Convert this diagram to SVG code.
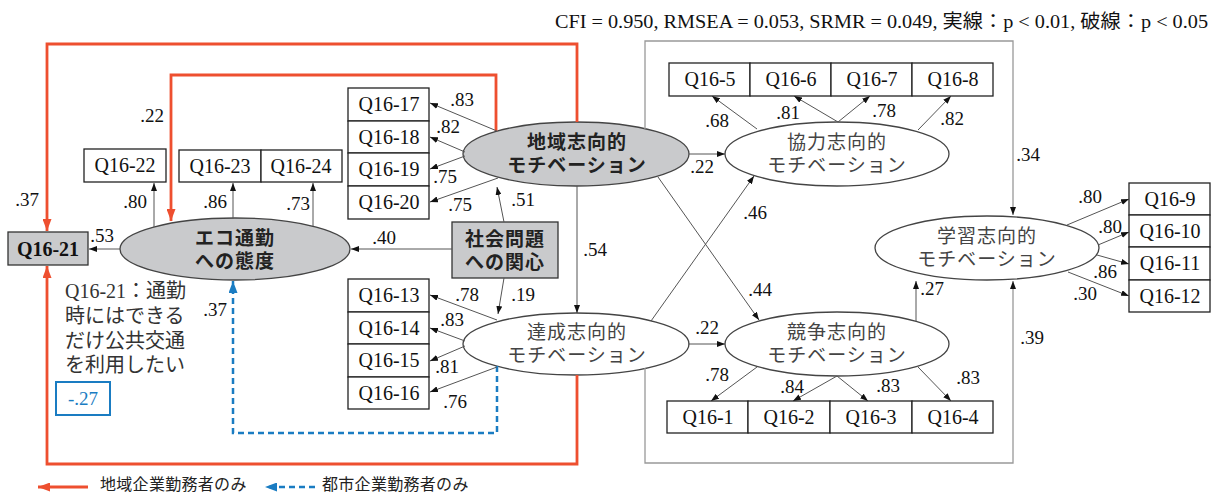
<svg xmlns="http://www.w3.org/2000/svg" width="1214" height="495" viewBox="0 0 1214 495">
<style>
.box{fill:#fff;stroke:#222;stroke-width:1.3}
.gbox{fill:#c9cacc;stroke:#333;stroke-width:1.3}
.ell{fill:#fff;stroke:#444;stroke-width:1.3}
.gell{fill:#c9cacc;stroke:#444;stroke-width:1.3}
.lbl{font-size:19px;fill:#111;text-anchor:middle}
.btx{font-size:20px;text-anchor:middle;fill:#111}
.jtx{font-size:19px;text-anchor:middle;fill:#444;letter-spacing:1px}
.jb{font-size:19px;text-anchor:middle;fill:#222;font-weight:bold;letter-spacing:1px}
.ln{stroke:#555;stroke-width:1;fill:none;marker-end:url(#a)}
.red{stroke:#ee4f2f;stroke-width:2.8;fill:none;marker-end:url(#ar)}
.blue{stroke:#1a7cc2;stroke-width:2.5;stroke-dasharray:6 4;fill:none;marker-end:url(#ab)}
.gry{stroke:#999;stroke-width:1.3;fill:none;marker-end:url(#a)}
.note{font-size:20px;fill:#333}
.leg{font-size:16px;fill:#222;letter-spacing:0.3px}
</style>
<defs>
<marker id="a" markerUnits="userSpaceOnUse" markerWidth="8" markerHeight="6" refX="8" refY="3" orient="auto"><path d="M0,0 L8,3 L0,6 z" fill="#111"/></marker>
<marker id="ar" markerUnits="userSpaceOnUse" markerWidth="12" markerHeight="9" refX="12" refY="4.5" orient="auto"><path d="M0,0 L12,4.5 L0,9 z" fill="#ee4f2f"/></marker>
<marker id="ab" markerUnits="userSpaceOnUse" markerWidth="12" markerHeight="9" refX="12" refY="4.5" orient="auto"><path d="M0,0 L12,4.5 L0,9 z" fill="#1a7cc2"/></marker>
</defs>
<rect width="1214" height="495" fill="#fff"/>
<g font-family="Liberation Serif, 'Noto Sans CJK JP', serif">
<text x="555" y="28" font-size="19" fill="#111" textLength="653" lengthAdjust="spacingAndGlyphs">CFI = 0.950, RMSEA = 0.053, SRMR = 0.049, 実線：p &lt; 0.01, 破線：p &lt; 0.05</text>

<g id="eco">
<ellipse class="gell" cx="235" cy="249" rx="115" ry="31"/>
<text class="jb" x="235" y="245"><tspan x="235" y="245">エコ通勤</tspan><tspan x="235" y="268">への態度</tspan></text>
</g>
<g id="q16-21">
<rect class="gbox" x="8" y="232" width="80" height="33"/>
<text class="btx" x="48" y="256" font-weight="bold">Q16-21</text>
</g>
<g id="q16-22"><rect class="box" x="84" y="149" width="82" height="33"/><text class="btx" x="125" y="172">Q16-22</text></g>
<g id="q16-23"><rect class="box" x="179" y="150" width="82" height="32"/><text class="btx" x="220" y="173">Q16-23</text></g>
<g id="q16-24"><rect class="box" x="261" y="150" width="81" height="32"/><text class="btx" x="301" y="173">Q16-24</text></g>

<g id="chiiki">
<ellipse class="gell" cx="576" cy="154" rx="113" ry="32"/>
<text class="jb"><tspan x="577" y="149">地域志向的</tspan><tspan x="577" y="172">モチベーション</tspan></text>
</g>
<g id="shakai">
<rect class="gbox" x="452" y="222" width="106" height="56"/>
<text class="jb"><tspan x="505" y="246">社会問題</tspan><tspan x="505" y="269">への関心</tspan></text>
</g>
<g id="q16-17"><rect class="box" x="348" y="88" width="81" height="33"/><text class="btx" x="389" y="111">Q16-17</text></g>
<g id="q16-18"><rect class="box" x="348" y="121" width="81" height="32"/><text class="btx" x="389" y="144">Q16-18</text></g>
<g id="q16-19"><rect class="box" x="348" y="153" width="81" height="33"/><text class="btx" x="389" y="176">Q16-19</text></g>
<g id="q16-20"><rect class="box" x="348" y="186" width="81" height="33"/><text class="btx" x="389" y="209">Q16-20</text></g>

<g id="tassei">
<ellipse class="ell" cx="576" cy="344" rx="113" ry="31"/>
<text class="jtx"><tspan x="577" y="339">達成志向的</tspan><tspan x="577" y="362">モチベーション</tspan></text>
</g>
<g id="q16-13"><rect class="box" x="348" y="279" width="81" height="33"/><text class="btx" x="389" y="302">Q16-13</text></g>
<g id="q16-14"><rect class="box" x="348" y="312" width="81" height="32"/><text class="btx" x="389" y="335">Q16-14</text></g>
<g id="q16-15"><rect class="box" x="348" y="344" width="81" height="33"/><text class="btx" x="389" y="367">Q16-15</text></g>
<g id="q16-16"><rect class="box" x="348" y="377" width="81" height="32"/><text class="btx" x="389" y="400">Q16-16</text></g>

<g id="kyoryoku">
<ellipse class="ell" cx="837" cy="154" rx="112" ry="32"/>
<text class="jtx"><tspan x="837" y="149">協力志向的</tspan><tspan x="837" y="172">モチベーション</tspan></text>
</g>
<g id="q16-5"><rect class="box" x="669" y="63" width="81" height="33"/><text class="btx" x="710" y="86">Q16-5</text></g>
<g id="q16-6"><rect class="box" x="750" y="63" width="81" height="33"/><text class="btx" x="791" y="86">Q16-6</text></g>
<g id="q16-7"><rect class="box" x="831" y="63" width="81" height="33"/><text class="btx" x="872" y="86">Q16-7</text></g>
<g id="q16-8"><rect class="box" x="912" y="63" width="81" height="33"/><text class="btx" x="953" y="86">Q16-8</text></g>

<g id="kyoso">
<ellipse class="ell" cx="837" cy="344" rx="112" ry="32"/>
<text class="jtx"><tspan x="837" y="339">競争志向的</tspan><tspan x="837" y="362">モチベーション</tspan></text>
</g>
<g id="q16-1"><rect class="box" x="667" y="401" width="81" height="32"/><text class="btx" x="708" y="424">Q16-1</text></g>
<g id="q16-2"><rect class="box" x="748" y="401" width="82" height="32"/><text class="btx" x="789" y="424">Q16-2</text></g>
<g id="q16-3"><rect class="box" x="830" y="401" width="82" height="32"/><text class="btx" x="871" y="424">Q16-3</text></g>
<g id="q16-4"><rect class="box" x="912" y="401" width="81" height="32"/><text class="btx" x="953" y="424">Q16-4</text></g>

<g id="gakushu">
<ellipse class="ell" cx="987" cy="248" rx="112" ry="32"/>
<text class="jtx"><tspan x="987" y="243">学習志向的</tspan><tspan x="987" y="266">モチベーション</tspan></text>
</g>
<g id="q16-9"><rect class="box" x="1129" y="183" width="81" height="32"/><text class="btx" x="1170" y="206">Q16-9</text></g>
<g id="q16-10"><rect class="box" x="1129" y="215" width="81" height="32"/><text class="btx" x="1170" y="238">Q16-10</text></g>
<g id="q16-11"><rect class="box" x="1129" y="247" width="81" height="33"/><text class="btx" x="1170" y="270">Q16-11</text></g>
<g id="q16-12"><rect class="box" x="1129" y="280" width="81" height="32"/><text class="btx" x="1170" y="303">Q16-12</text></g>

<g id="note">
<text class="note"><tspan x="65" y="298">Q16-21：通勤</tspan><tspan x="65" y="323">時にはできる</tspan><tspan x="65" y="348">だけ公共交通</tspan><tspan x="65" y="372">を利用したい</tspan></text>
</g>
<g id="blue-coef">
<rect x="56" y="382" width="54" height="33" fill="#fff" stroke="#1a7cc2" stroke-width="2"/>
<text x="83" y="405" font-size="19" fill="#1a7cc2" text-anchor="middle">-.27</text>
</g>

<g id="connectors">
<path class="red" d="M577,122 V44 H47 V231"/>
<path class="red" d="M496,131 V75 H171 V221"/>
<path class="red" d="M577,375 V464 H47 V266"/>
<path class="blue" d="M497,366 V433 H233 V281"/>
<path class="gry" d="M645,129 V41 H1013 V215"/>
<path class="gry" d="M645,368 V463 H1013 V281"/>
<path class="ln" d="M120,249 H89"/>
<path class="ln" d="M154,227 V183"/>
<path class="ln" d="M233,218 V183"/>
<path class="ln" d="M313,226 V183"/>
<path class="ln" d="M452,249 H351"/>
<path class="ln" d="M504,222 L497,187"/>
<path class="ln" d="M504,278 L498,314"/>
<path class="ln" d="M497,131 L430,103"/>
<path class="ln" d="M465,152 L430,137"/>
<path class="ln" d="M465,156 L430,169"/>
<path class="ln" d="M498,178 L430,202"/>
<path class="ln" d="M497,320 L430,295"/>
<path class="ln" d="M465,341 L430,328"/>
<path class="ln" d="M465,346 L430,361"/>
<path class="ln" d="M497,367 L430,392"/>
<path class="ln" d="M577,186 V313"/>
<path class="ln" d="M689,154 H725"/>
<path class="ln" d="M688,344 H725"/>
<path class="ln" d="M658,177 L759,320"/>
<path class="ln" d="M651,321 L754,176"/>
<path class="ln" d="M916,321 V281"/>
<path class="ln" d="M757,129 L712,96"/>
<path class="ln" d="M838,122 L794,96"/>
<path class="ln" d="M838,122 L870,96"/>
<path class="ln" d="M918,130 L951,96"/>
<path class="ln" d="M757,367 L711,401"/>
<path class="ln" d="M837,376 L793,401"/>
<path class="ln" d="M837,376 L868,401"/>
<path class="ln" d="M918,367 L951,401"/>
<path class="ln" d="M1067,225 L1129,199"/>
<path class="ln" d="M1098,245 L1129,232"/>
<path class="ln" d="M1097,255 L1129,264"/>
<path class="ln" d="M1068,272 L1129,296"/>
<g>
<text class="lbl" x="152" y="122">.22</text>
<text class="lbl" x="27" y="206">.37</text>
<text class="lbl" x="135" y="208">.80</text>
<text class="lbl" x="215" y="208">.86</text>
<text class="lbl" x="298" y="210">.73</text>
<text class="lbl" x="102" y="242">.53</text>
<text class="lbl" x="384" y="244">.40</text>
<text class="lbl" x="462" y="106">.83</text>
<text class="lbl" x="448" y="133">.82</text>
<text class="lbl" x="445" y="183">.75</text>
<text class="lbl" x="460" y="211">.75</text>
<text class="lbl" x="523" y="206">.51</text>
<text class="lbl" x="595" y="256">.54</text>
<text class="lbl" x="523" y="301">.19</text>
<text class="lbl" x="467" y="301">.78</text>
<text class="lbl" x="452" y="326">.83</text>
<text class="lbl" x="447" y="373">.81</text>
<text class="lbl" x="455" y="408">.76</text>
<text class="lbl" x="215" y="316">.37</text>
<text class="lbl" x="702" y="173">.22</text>
<text class="lbl" x="755" y="219">.46</text>
<text class="lbl" x="760" y="296">.44</text>
<text class="lbl" x="707" y="334">.22</text>
<text class="lbl" x="932" y="295">.27</text>
<text class="lbl" x="1028" y="161">.34</text>
<text class="lbl" x="1032" y="344">.39</text>
<text class="lbl" x="717" y="127">.68</text>
<text class="lbl" x="788" y="119">.81</text>
<text class="lbl" x="884" y="117">.78</text>
<text class="lbl" x="952" y="125">.82</text>
<text class="lbl" x="717" y="381">.78</text>
<text class="lbl" x="792" y="393">.84</text>
<text class="lbl" x="888" y="392">.83</text>
<text class="lbl" x="968" y="384">.83</text>
<text class="lbl" x="1090" y="203">.80</text>
<text class="lbl" x="1110" y="233">.80</text>
<text class="lbl" x="1105" y="278">.86</text>
<text class="lbl" x="1085" y="300">.30</text>
</g>
</g>

<g id="legend">
<path d="M88,487 H38" stroke="#ee4f2f" stroke-width="2.8" fill="none" marker-end="url(#ar)"/>
<text class="leg" x="100" y="490">地域企業勤務者のみ</text>
<path d="M315,487 H265" stroke="#1a7cc2" stroke-width="2.5" stroke-dasharray="6 4" fill="none" marker-end="url(#ab)"/>
<text class="leg" x="322" y="490">都市企業勤務者のみ</text>
</g>
</g>
</svg>
